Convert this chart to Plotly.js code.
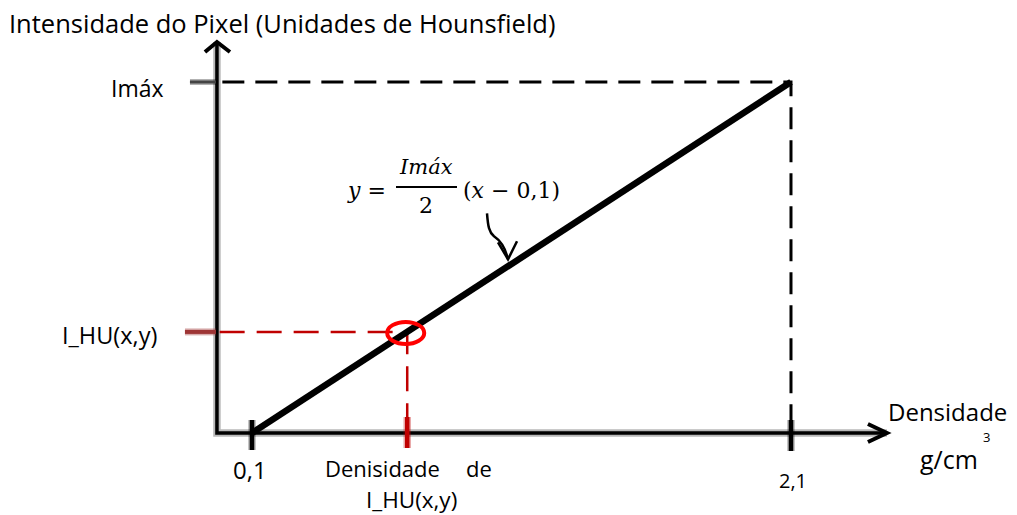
<!DOCTYPE html>
<html>
<head>
<meta charset="utf-8">
<script src="https://cdn.plot.ly/plotly-3.0.1.min.js"></script>
<style>
  html, body { margin: 0; padding: 0; background: #ffffff; }
  #chart { width: 1017px; height: 515px; }
</style>
</head>
<body>
<div id="chart"></div>
<script>
// Linear calibration: density (g/cm3) against pixel intensity (fraction of Imáx)
const densidade = [0.1, 2.1];
const intensidade = [0, 1];

// A sample pixel value and its density, read through y = Imáx/2 (x - 0,1)
const intensidadeHU = 0.288;
const densidadeHU = 0.1 + 2 * intensidadeHU;

// Tick labels
const xTickVals = [0.1, 2.1];
const xTickText = ['0,1', '2,1'];
const yTickVals = [1, intensidadeHU];
const yTickText = ['Imáx', 'I_HU(x,y)'];

// Axes extent (data units)
const axisOriginX = -0.03;
const axisEndX = 2.456;
const axisEndY = 1.114;

const W = 1017, H = 515;
const xRange = [-0.835, 2.9386];
const yRange = [-0.2336, 1.2336];

const SANS = '"Open Sans", Lato, sans-serif';
const SERIF = '"DejaVu Serif", serif';

const traces = [
  // soft halo under the axes
  {
    x: [axisOriginX, axisOriginX, axisEndX],
    y: [axisEndY, 0, 0],
    mode: 'lines',
    line: { color: 'rgba(0,0,0,0.28)', width: 7.5 },
    hoverinfo: 'skip'
  },
  {
    x: [axisOriginX, axisOriginX, axisEndX],
    y: [axisEndY, 0, 0],
    mode: 'lines',
    line: { color: '#000000', width: 3.5 },
    hoverinfo: 'skip'
  },
  // Imáx guide lines
  {
    x: [axisOriginX + 0.02, densidade[1], densidade[1]],
    y: [intensidade[1], intensidade[1], 0],
    mode: 'lines',
    line: { color: '#000000', width: 3, dash: '22px,11px' },
    hoverinfo: 'skip'
  },
  // sample pixel guide lines
  {
    x: [axisOriginX + 0.01, densidadeHU, densidadeHU],
    y: [intensidadeHU, intensidadeHU, 0],
    mode: 'lines',
    line: { color: '#c00000', width: 2.5, dash: '25px,12px' },
    hoverinfo: 'skip'
  },
  // calibration line
  {
    x: densidade,
    y: intensidade,
    mode: 'lines',
    line: { color: '#000000', width: 6.5 },
    hoverinfo: 'skip'
  }
];

// Shapes sized in pixels around data anchors
function vTick(xv, color, halo, up, down, w) {
  return [
    { type: 'line', xref: 'x', yref: 'y', x0: xv, x1: xv, ysizemode: 'pixel', yanchor: 0,
      y0: -down, y1: up, line: { color: halo, width: w + 3 }, layer: 'above' },
    { type: 'line', xref: 'x', yref: 'y', x0: xv, x1: xv, ysizemode: 'pixel', yanchor: 0,
      y0: -down, y1: up, line: { color: color, width: w }, layer: 'above' }
  ];
}
function hTick(yv, color, halo, len, w) {
  return [
    { type: 'line', xref: 'x', yref: 'y', y0: yv, y1: yv, xsizemode: 'pixel', xanchor: axisOriginX,
      x0: -len, x1: -1, line: { color: halo, width: w + 2 }, layer: 'above' },
    { type: 'line', xref: 'x', yref: 'y', y0: yv, y1: yv, xsizemode: 'pixel', xanchor: axisOriginX,
      x0: -len, x1: -1, line: { color: color, width: w - 1 }, layer: 'above' }
  ];
}
function pixPath(ax, ay, path, color, width) {
  return { type: 'path', xref: 'x', yref: 'y', xsizemode: 'pixel', ysizemode: 'pixel',
    xanchor: ax, yanchor: ay, path: path, line: { color: color, width: width }, layer: 'above' };
}

// point on the calibration line that the curved pointer targets
const pointerX = 1.05;
const pointerY = (pointerX - densidade[0]) / (densidade[1] - densidade[0]) * intensidade[1];

const shapes = [].concat(
  vTick(xTickVals[0], '#000000', 'rgba(0,0,0,0.3)', 13, 17, 4.5),
  vTick(xTickVals[1], '#000000', 'rgba(0,0,0,0.3)', 13, 18, 4.5),
  vTick(densidadeHU, '#c00000', 'rgba(192,0,0,0.35)', 16, 15, 4.5),
  hTick(yTickVals[0], '#444444', 'rgba(0,0,0,0.3)', 27, 4),
  hTick(yTickVals[1], '#9e3535', 'rgba(158,53,53,0.4)', 32, 5),
  [
    // arrowheads of the axes
    pixPath(axisOriginX, axisEndY, 'M -12,-10 L 0,0 L 13,-10', '#000000', 4),
    pixPath(axisEndX, 0, 'M -19,9 L 0,0 L -19,-9', '#000000', 4),
    // circle around the sample pixel
    { type: 'circle', xref: 'x', yref: 'y', xsizemode: 'pixel', ysizemode: 'pixel',
      xanchor: densidadeHU, yanchor: intensidadeHU, x0: -20, x1: 17, y0: -12, y1: 10,
      line: { color: '#ff0000', width: 4 }, layer: 'above' },
    // curved pointer from the equation to the line
    pixPath(pointerX, pointerY, 'M -21,53 C -20,40 -19,34 -14,30 C -8,26 -3,20 0,7', '#000000', 2.5),
    pixPath(pointerX, pointerY, 'M -10,24 L 0,7 L 9,25', '#000000', 2.5),
    // fraction bar of the equation
    { type: 'line', xref: 'paper', yref: 'paper', x0: 396 / W, x1: 457 / W,
      y0: 1 - 187 / H, y1: 1 - 187 / H, line: { color: '#000000', width: 2 } }
  ]
);

function txt(text, opts) {
  return Object.assign({
    text: text, showarrow: false,
    font: { family: SANS, size: 21, color: '#000000' }
  }, opts);
}
function P(px, py) { return { xref: 'paper', yref: 'paper', x: px / W, y: 1 - py / H }; }

const annotations = [
  txt('Intensidade do Pixel (Unidades de Hounsfield)', Object.assign(P(7, 23),
    { xanchor: 'left', yanchor: 'middle', font: { family: SANS, size: 25.5, color: '#000' } })),
  // y tick labels
  txt(yTickText[0], { xref: 'x', yref: 'y', x: axisOriginX, y: yTickVals[0], xanchor: 'right', yanchor: 'middle',
    xshift: -51, yshift: -6, font: { family: SANS, size: 23, color: '#000' } }),
  txt(yTickText[1], { xref: 'x', yref: 'y', x: axisOriginX, y: yTickVals[1], xanchor: 'right', yanchor: 'middle',
    xshift: -58, yshift: -3, font: { family: SANS, size: 23.5, color: '#000' } }),
  // x tick labels
  txt(xTickText[0], { xref: 'x', yref: 'y', x: xTickVals[0], y: 0, xanchor: 'center', yanchor: 'middle',
    xshift: -2, yshift: -36, font: { family: SANS, size: 24, color: '#000' } }),
  txt(xTickText[1], { xref: 'x', yref: 'y', x: xTickVals[1], y: 0, xanchor: 'center', yanchor: 'middle',
    xshift: 2, yshift: -47, font: { family: SANS, size: 20, color: '#000' } }),
  txt('Denisidade', { xref: 'x', yref: 'y', x: densidadeHU, y: 0, xanchor: 'right', yanchor: 'middle',
    xshift: 35, yshift: -35, font: { family: SANS, size: 22, color: '#000' } }),
  txt('de', { xref: 'x', yref: 'y', x: densidadeHU, y: 0, xanchor: 'right', yanchor: 'middle',
    xshift: 87, yshift: -35, font: { family: SANS, size: 22, color: '#000' } }),
  txt('I_HU(x,y)', { xref: 'x', yref: 'y', x: densidadeHU, y: 0, xanchor: 'center', yanchor: 'middle',
    xshift: 4, yshift: -66, font: { family: SANS, size: 22.5, color: '#000' } }),
  // x axis title
  txt('Densidade', { xref: 'x', yref: 'y', x: axisEndX, y: 0, xanchor: 'left', yanchor: 'middle',
    xshift: -1, yshift: 22, font: { family: SANS, size: 24, color: '#000' } }),
  txt('g/cm', Object.assign(P(918, 459), { xanchor: 'left', yanchor: 'middle',
    font: { family: SANS, size: 25, color: '#000' } })),
  txt('3', Object.assign(P(986, 437), { xanchor: 'center', yanchor: 'middle',
    font: { family: SANS, size: 13, color: '#000' } })),
  // equation
  txt('<i>y</i> =', Object.assign(P(388, 190), { xanchor: 'right', yanchor: 'middle',
    font: { family: SERIF, size: 22, color: '#000' } })),
  txt('<i>Imáx</i>', Object.assign(P(426, 167), { xanchor: 'center', yanchor: 'middle',
    font: { family: SERIF, size: 21, color: '#000' } })),
  txt('2', Object.assign(P(426, 205), { xanchor: 'center', yanchor: 'middle',
    font: { family: SERIF, size: 22, color: '#000' } })),
  txt('(<i>x</i> − 0,1)', Object.assign(P(461, 190), { xanchor: 'left', yanchor: 'middle',
    font: { family: SERIF, size: 22, color: '#000' } }))
];

const layout = {
  width: W, height: H,
  margin: { l: 0, r: 0, t: 0, b: 0, pad: 0 },
  paper_bgcolor: '#ffffff', plot_bgcolor: '#ffffff',
  showlegend: false,
  xaxis: { range: xRange, visible: false, fixedrange: true },
  yaxis: { range: yRange, visible: false, fixedrange: true },
  shapes: shapes,
  annotations: annotations,
  hovermode: false
};

Plotly.newPlot('chart', traces, layout, { displayModeBar: false, staticPlot: true });
</script>
</body>
</html>
